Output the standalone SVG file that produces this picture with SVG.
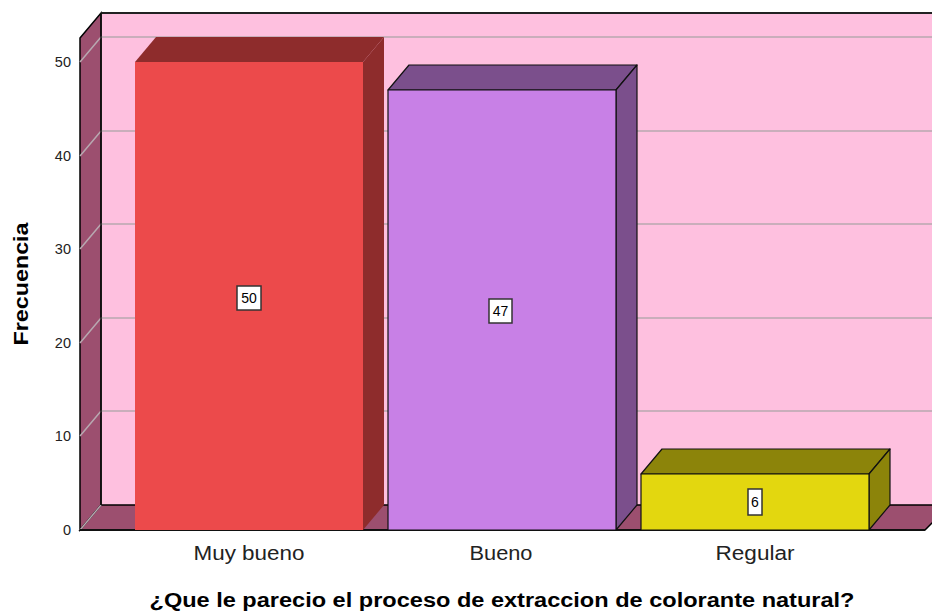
<svg xmlns="http://www.w3.org/2000/svg" width="932" height="613" viewBox="0 0 932 613">
<style>
.wall{fill:#fec0df;}
.side{fill:#9c4f6f;stroke:#000;stroke-width:1.5;}
.grid{stroke:#b8a8b0;stroke-width:1.5;fill:none;}
.tick{font-family:"Liberation Sans",Arial,sans-serif;font-size:14.5px;fill:#222;text-anchor:end;}
.cat{font-family:"Liberation Sans",Arial,sans-serif;font-size:20px;fill:#222;text-anchor:middle;}
.ttl{font-family:"Liberation Sans",Arial,sans-serif;font-size:20px;font-weight:bold;fill:#000;text-anchor:middle;}
.lblbox{fill:#fff;stroke:#333;stroke-width:1.5;}
.lbl{font-family:"Liberation Sans",Arial,sans-serif;font-size:14px;fill:#000;text-anchor:middle;}
.ol{stroke:#111;stroke-width:1.2;stroke-linejoin:round;}
</style>
<rect width="932" height="613" fill="#fff"/>
<g id="chart-frame">
<rect class="wall" x="101" y="13" width="835" height="492"/>
<polygon class="side" points="80,38 101,13 101,505 80,530"/>
<polygon class="side" points="80,530 101,505 950,505 925,530"/>
<g class="grid">
<polyline points="80,62 101,37 932,37"/>
<polyline points="80,156 101,131 932,131"/>
<polyline points="80,249 101,224 932,224"/>
<polyline points="80,343 101,318 932,318"/>
<polyline points="80,436 101,411 932,411"/>
<polyline points="80,530 101,505"/>
</g>
<line x1="101" y1="13" x2="932" y2="13" stroke="#222" stroke-width="2"/>
<line x1="101" y1="13" x2="101" y2="505" stroke="#111" stroke-width="1.5"/>
<line x1="80" y1="530" x2="925" y2="530" stroke="#111" stroke-width="2"/>
</g>
<g id="y-axis">
<text class="tick" x="71" y="67">50</text>
<text class="tick" x="71" y="161">40</text>
<text class="tick" x="71" y="254">30</text>
<text class="tick" x="71" y="348">20</text>
<text class="tick" x="71" y="441">10</text>
<text class="tick" x="71" y="535">0</text>
<text class="ttl" transform="translate(28,284) rotate(-90)" textLength="123" lengthAdjust="spacingAndGlyphs">Frecuencia</text>
</g>
<g id="bar-muy-bueno">
<polygon fill="#8e2c2c" points="135,62 156,37 384,37 363,62"/>
<polygon fill="#8e2c2c" points="363,62 384,37 384,505 363,530"/>
<rect fill="#ec4a4b" x="135" y="62" width="228" height="468"/>
<rect class="lblbox" x="237" y="286" width="24" height="24"/>
<text class="lbl" x="249" y="303">50</text>
<text class="cat" x="249" y="560" textLength="111" lengthAdjust="spacingAndGlyphs">Muy bueno</text>
</g>
<g id="bar-bueno">
<polygon class="ol" fill="#7b4f8c" points="388,90 409,65 637,65 616,90"/>
<polygon class="ol" fill="#7b4f8c" points="616,90 637,65 637,505 616,530"/>
<rect class="ol" fill="#c880e6" x="388" y="90" width="228" height="440"/>
<rect class="lblbox" x="489" y="299" width="23" height="24"/>
<text class="lbl" x="500.5" y="316">47</text>
<text class="cat" x="501" y="560" textLength="63" lengthAdjust="spacingAndGlyphs">Bueno</text>
</g>
<g id="bar-regular">
<polygon class="ol" fill="#8c840a" points="641,474 662,449 890,449 869,474"/>
<polygon class="ol" fill="#8c840a" points="869,474 890,449 890,505 869,530"/>
<rect class="ol" fill="#e3d70f" x="641" y="474" width="228" height="56"/>
<rect class="lblbox" x="748" y="489" width="14" height="26"/>
<text class="lbl" x="755" y="507">6</text>
<text class="cat" x="755" y="560" textLength="79" lengthAdjust="spacingAndGlyphs">Regular</text>
</g>
<g id="x-title">
<text class="ttl" x="502" y="607" textLength="705" lengthAdjust="spacingAndGlyphs">¿Que le parecio el proceso de extraccion de colorante natural?</text>
</g>
<g id="connectors"></g>
</svg>
